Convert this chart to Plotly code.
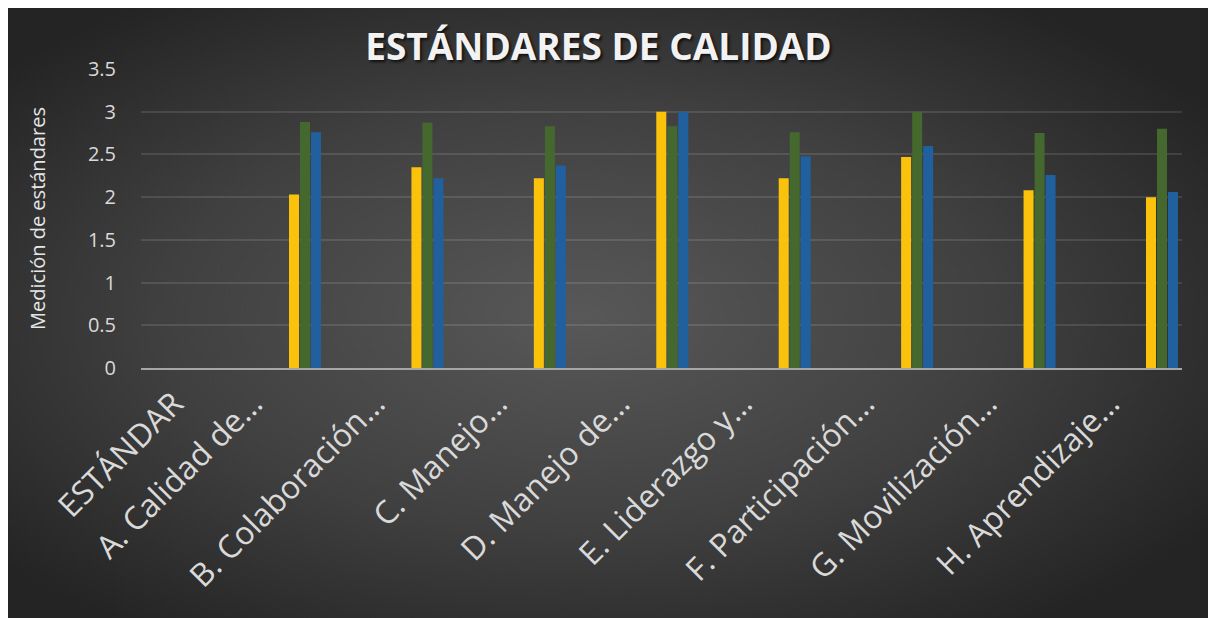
import base64
import plotly.graph_objects as go

# ---- data ----
categories = ["A. Calidad de…", "B. Colaboración…", "C. Manejo…", "D. Manejo de…",
              "E. Liderazgo y…", "F. Participación…", "G. Movilización…", "H. Aprendizaje…"]
serie_amarilla = [2.03, 2.35, 2.22, 3.00, 2.22, 2.47, 2.08, 2.00]
serie_verde = [2.88, 2.87, 2.83, 2.83, 2.76, 3.00, 2.75, 2.80]
serie_azul = [2.76, 2.22, 2.37, 3.00, 2.48, 2.60, 2.26, 2.06]
header_label = "ESTÁNDAR"
y_ticks = [0, 0.5, 1, 1.5, 2, 2.5, 3, 3.5]

# ---- styling ----
W, H = 1216, 618
L, R, T, B = 133, 42, 61, 258
plot_w = W - L - R
plot_h = H - T - B

colors = ["#fbc20c", "#45682f", "#21609e"]
series = [serie_amarilla, serie_verde, serie_azul]

fig = go.Figure()
for vals, col in zip(series, colors):
    fig.add_trace(go.Bar(x=categories, y=vals, marker=dict(color=col, line=dict(width=0)),
                         showlegend=False, hoverinfo="x+y"))

# radial gradient background (decorative)
svg = ('<svg xmlns="http://www.w3.org/2000/svg" width="1216" height="618">'
       '<defs><radialGradient id="g" cx="0.47" cy="0.5" r="0.62">'
       '<stop offset="0" stop-color="#585858"/><stop offset="0.55" stop-color="#404040"/>'
       '<stop offset="1" stop-color="#242424"/></radialGradient></defs>'
       '<rect width="1216" height="618" fill="url(#g)"/></svg>')
src = "data:image/svg+xml;base64," + base64.b64encode(svg.encode()).decode()
fig.add_layout_image(dict(source=src, xref="paper", yref="paper",
                          x=-L / plot_w, y=1 + T / plot_h,
                          sizex=W / plot_w, sizey=H / plot_h,
                          xanchor="left", yanchor="top", sizing="stretch", layer="below"))

step = plot_w / 8.503
x_lo = -(297 - L) / step
x_hi = x_lo + plot_w / step

fig.update_layout(
    width=W, height=H,
    margin=dict(l=L, r=R, t=T, b=B, pad=0),
    paper_bgcolor="#2a2a2a", plot_bgcolor="rgba(0,0,0,0)",
    barmode="group", bargap=0.7305, bargroupgap=0.09,
    title=dict(text="ESTÁNDARES DE CALIDAD", x=590.5 / W, xref="container", xanchor="center",
               y=1 - 39 / H, yref="container", yanchor="middle",
               font=dict(family="Open Sans", size=37, color="#f2f2f2", weight="bold",
                         shadow="2px 2px 3px rgba(0,0,0,0.7)")),
    font=dict(family="Open Sans", color="#d9d9d9"),
    xaxis=dict(type="category", range=[x_lo, x_hi], tickangle=-45,
               tickmode="array",
               tickvals=[-0.645] + list(range(len(categories))),
               ticktext=[header_label] + categories,
               tickfont=dict(size=32, color="#d9d9d9"),
               ticks="", ticklabelshift=-52, ticklabelstandoff=2,
               showgrid=False, showline=True, linecolor="#a6a6a6", linewidth=2,
               zeroline=False, fixedrange=True),
    yaxis=dict(range=[0, 3.5], tickmode="array", tickvals=y_ticks,
               tickfont=dict(size=20, color="#d9d9d9"),
               ticks="", ticklabelstandoff=24,
               showgrid=True, gridcolor="rgba(255,255,255,0.11)", gridwidth=1.5,
               zeroline=False, showline=False,
               title=dict(text="Medición de estándares", standoff=36,
                          font=dict(size=20, color="#e6e6e6")),
               fixedrange=True),
)

fig.write_html("out.html")
